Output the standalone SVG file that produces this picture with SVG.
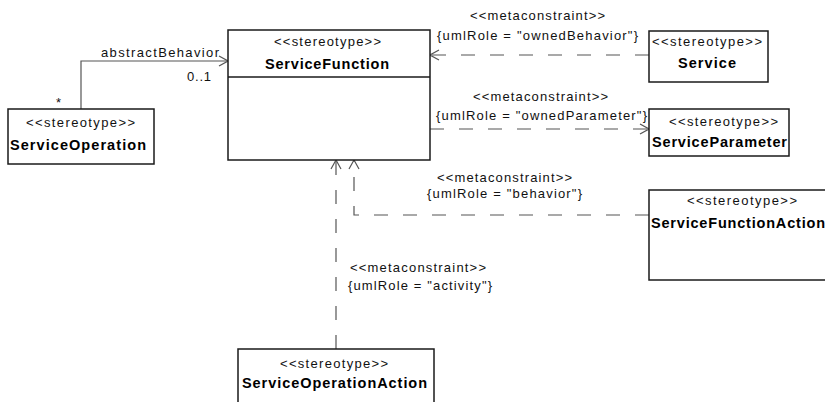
<svg xmlns="http://www.w3.org/2000/svg" width="825" height="402" viewBox="0 0 825 402">
<style>
.box{fill:#fff;stroke:#1a1a1a;stroke-width:1.5}
.st{font-family:"Liberation Sans",Arial,sans-serif;font-size:13px;fill:#111}
.nm{font-family:"Liberation Sans",Arial,sans-serif;font-size:14.5px;font-weight:bold;fill:#000}
.lb{font-family:"Liberation Sans",Arial,sans-serif;font-size:13px;fill:#111}
.conn{fill:none;stroke:#555;stroke-width:1.2}
.dash{stroke-dasharray:14 15}
</style>
<defs>
<marker id="open" viewBox="-11 -7 12 14" refX="0" refY="0" markerUnits="userSpaceOnUse" markerWidth="12" markerHeight="14" orient="auto">
<path d="M-9,-5 L0,0 L-9,5" fill="none" stroke="#555" stroke-width="1.2" stroke-dasharray="none"/>
</marker>
</defs>
<rect width="825" height="402" fill="#fff"/>
<g id="connectors">
<polyline class="conn" points="81,109 81,61 228,61" marker-end="url(#open)"/>
<line class="conn dash" x1="649" y1="55" x2="430" y2="55" marker-end="url(#open)"/>
<line class="conn dash" x1="430" y1="129" x2="649" y2="129" marker-end="url(#open)"/>
<polyline class="conn dash" points="649,215 354,215 354,160" marker-end="url(#open)"/>
<line class="conn dash" x1="336" y1="349" x2="336" y2="160" marker-end="url(#open)"/>
<text class="lb" x="101" y="57" textLength="118" lengthAdjust="spacing">abstractBehavior</text>
<text class="lb" x="187" y="81" textLength="24" lengthAdjust="spacing">0..1</text>
<text class="lb" x="56" y="107">*</text>
<text class="lb" x="470" y="20" textLength="135" lengthAdjust="spacing">&lt;&lt;metaconstraint&gt;&gt;</text>
<text class="lb" x="437" y="40" textLength="201" lengthAdjust="spacing">{umlRole = "ownedBehavior"}</text>
<text class="lb" x="473" y="101" textLength="135" lengthAdjust="spacing">&lt;&lt;metaconstraint&gt;&gt;</text>
<text class="lb" x="436" y="120" textLength="211" lengthAdjust="spacing">{umlRole = "ownedParameter"}</text>
<text class="lb" x="437" y="182" textLength="135" lengthAdjust="spacing">&lt;&lt;metaconstraint&gt;&gt;</text>
<text class="lb" x="427" y="198" textLength="155" lengthAdjust="spacing">{umlRole = "behavior"}</text>
<text class="lb" x="350" y="272" textLength="136" lengthAdjust="spacing">&lt;&lt;metaconstraint&gt;&gt;</text>
<text class="lb" x="348" y="290" textLength="144" lengthAdjust="spacing">{umlRole = "activity"}</text>
</g>
<g id="ServiceFunction">
<rect class="box" x="228" y="30" width="202" height="130"/>
<line x1="228" y1="77" x2="430" y2="77" stroke="#1a1a1a" stroke-width="1.5"/>
<text class="st" x="274" y="46" textLength="107" lengthAdjust="spacing">&lt;&lt;stereotype&gt;&gt;</text>
<text class="nm" x="265" y="69" textLength="124" lengthAdjust="spacing">ServiceFunction</text>
</g>
<g id="ServiceOperation">
<rect class="box" x="8" y="109" width="146" height="55"/>
<text class="st" x="26" y="127" textLength="109" lengthAdjust="spacing">&lt;&lt;stereotype&gt;&gt;</text>
<text class="nm" x="10" y="150" textLength="136" lengthAdjust="spacing">ServiceOperation</text>
</g>
<g id="Service">
<rect class="box" x="649" y="31" width="119" height="51"/>
<text class="st" x="652" y="46" textLength="110" lengthAdjust="spacing">&lt;&lt;stereotype&gt;&gt;</text>
<text class="nm" x="678" y="68" textLength="58" lengthAdjust="spacing">Service</text>
</g>
<g id="ServiceParameter">
<rect class="box" x="649" y="109" width="140" height="47"/>
<text class="st" x="669" y="126" textLength="109" lengthAdjust="spacing">&lt;&lt;stereotype&gt;&gt;</text>
<text class="nm" x="652" y="147" textLength="135" lengthAdjust="spacing">ServiceParameter</text>
</g>
<g id="ServiceFunctionAction">
<rect class="box" x="649" y="190" width="190" height="90"/>
<text class="st" x="687" y="205" textLength="110" lengthAdjust="spacing">&lt;&lt;stereotype&gt;&gt;</text>
<text class="nm" x="651" y="228" textLength="174" lengthAdjust="spacing">ServiceFunctionAction</text>
</g>
<g id="ServiceOperationAction">
<rect class="box" x="238" y="349" width="196" height="80"/>
<text class="st" x="280" y="368" textLength="108" lengthAdjust="spacing">&lt;&lt;stereotype&gt;&gt;</text>
<text class="nm" x="242" y="388" textLength="185" lengthAdjust="spacing">ServiceOperationAction</text>
</g>
</svg>
